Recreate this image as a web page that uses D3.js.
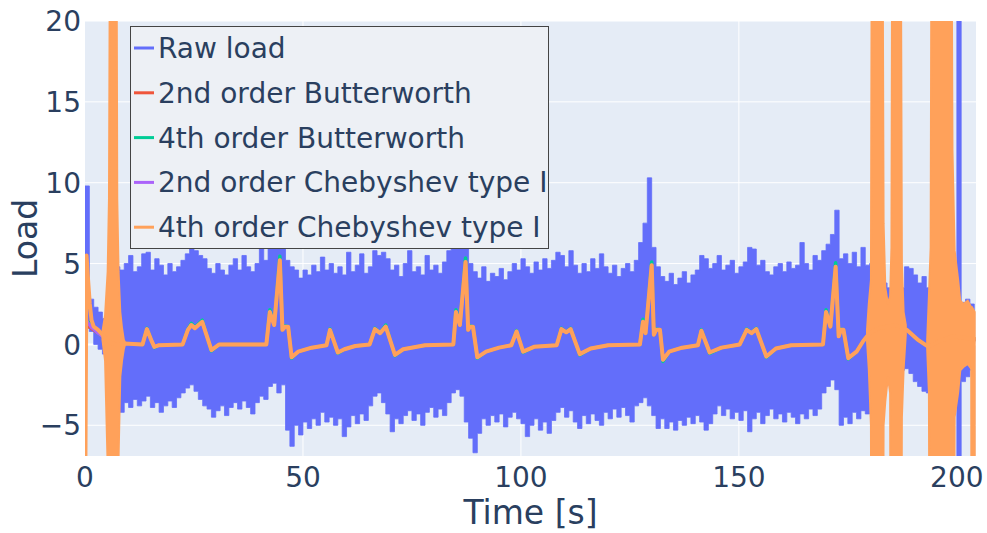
<!DOCTYPE html>
<html>
<head>
<meta charset="utf-8">
<script src="https://cdn.jsdelivr.net/npm/d3@7"></script>
<style>
  body { margin: 0; background: #fff; }
  text { font-family: "DejaVu Sans", Verdana, sans-serif; fill: #2a3f5f; }
</style>
</head>
<body>
<svg id="chart" width="987" height="533"></svg>
<script>
// ---- axis ticks ----
const xTicks = [0, 50, 100, 150, 200];
const yTicks = [-5, 0, 5, 10, 15, 20];

// ---- series names / colours ----
const seriesNames = ["Raw load", "2nd order Butterworth", "4th order Butterworth",
                     "2nd order Chebyshev type I", "4th order Chebyshev type I"];
const seriesColors = ["#636efa", "#EF553B", "#00cc96", "#ab63fa", "#FFA15A"];

// ---- raw load: per-second upper / lower envelope of the signal ----
const rawStart = 0, rawStep = 1;
const rawHi = [
  9.8, 2.8, 2.3, 2.0, 1.6, 1.8, 4.5, 4.8, 4.6, 5.0,
  5.5, 4.5, 4.8, 5.6, 5.7, 4.6, 5.3, 4.9, 4.3, 5.0,
  4.5, 4.8, 5.2, 5.6, 5.9, 5.8, 5.5, 5.3, 4.7, 4.4,
  5.0, 4.6, 4.3, 4.9, 5.3, 4.6, 5.5, 4.8, 4.5, 5.0,
  5.9, 5.2, 6.0, 6.5, 7.2, 6.5, 5.2, 4.8, 4.6, 4.1,
  4.6, 4.3, 4.9, 4.5, 5.4, 4.6, 5.0, 4.4, 4.8, 4.3,
  5.7, 4.5, 4.9, 5.6, 4.4, 4.8, 5.8, 5.5, 5.7, 5.3,
  4.6, 4.9, 4.2, 5.0, 5.8, 4.5, 4.8, 4.3, 5.5, 4.6,
  4.9, 4.4, 5.1, 5.8, 6.2, 6.8, 7.5, 6.2, 5.0, 4.5,
  4.1, 4.8, 3.9, 4.4, 4.2, 4.7, 4.0, 4.5, 5.0, 4.6,
  5.3, 4.8, 4.4, 5.1, 4.6, 5.3, 4.7, 5.2, 5.7, 5.5,
  4.8, 5.8, 4.9, 4.4, 5.0, 4.5, 5.3, 4.7, 5.6, 4.8,
  4.4, 4.9, 4.2, 4.7, 5.0, 4.5, 5.2, 6.3, 7.5, 10.3,
  6.0, 4.8, 4.2, 3.9, 4.4, 3.7, 4.1, 4.5, 3.8, 4.3,
  4.6, 5.5, 5.3, 4.7, 5.0, 5.5, 4.6, 4.9, 5.2, 4.4,
  4.8, 5.1, 6.0, 5.9, 4.9, 5.2, 4.5, 4.3, 4.8, 5.0,
  4.5, 5.1, 4.7, 4.9, 6.3, 5.0, 4.6, 5.5, 5.2, 5.8,
  6.2, 6.8, 8.3, 5.3, 5.6, 5.0, 5.7, 4.8, 6.0, 4.9,
  5.0, 4.5, 4.0, 3.8, 3.5, 3.0, 2.8, 3.5, 4.8, 4.7,
  4.3, 3.8, 4.2, 3.5, 3.0, 3.0, 2.8, 3.0, 2.8, 3.0,
  25, 2.6, 2.8, 2.5, 2.2
];
const rawLo = [
  1.0, 0.8, 0.0, -0.3, -0.6, -1.0, -4.0, -4.2, -4.2, -3.6,
  -3.9, -3.4, -3.8, -3.5, -3.2, -3.9, -3.6, -4.2, -3.8, -3.5,
  -3.9, -3.3, -3.0, -2.7, -2.5, -2.9, -3.4, -3.8, -4.0, -4.5,
  -4.1, -3.8, -4.4, -3.9, -3.6, -4.0, -3.5, -3.9, -4.3, -3.6,
  -3.2, -3.4, -2.6, -2.4, -3.0, -2.5, -5.3, -6.3, -5.0, -5.6,
  -4.8, -5.2, -4.6, -5.0, -4.2, -4.8, -4.5, -5.0, -4.6, -5.7,
  -5.1, -4.4, -4.9, -4.3, -4.7, -3.8, -3.2, -3.0, -3.6, -4.3,
  -5.4, -4.6, -4.9, -4.4, -4.1, -4.7, -4.3, -5.0, -4.2, -3.9,
  -4.5, -4.0, -4.4, -3.6, -3.0, -2.8, -3.2, -4.8, -5.8, -6.7,
  -5.5, -4.6, -5.0, -4.4, -4.8, -4.3, -5.1, -4.5, -4.2, -4.6,
  -4.9, -5.7, -5.0, -4.6, -5.3, -4.8, -5.5, -4.7, -4.2, -3.9,
  -4.5, -4.1, -4.8, -5.2, -4.4, -4.9, -4.3, -4.7, -5.0, -4.2,
  -4.6, -4.0, -4.5, -3.9, -4.4, -4.8, -3.8, -3.6, -3.3, -3.8,
  -4.4, -5.2, -4.6, -5.2, -4.8, -5.3, -4.7, -5.0, -4.5, -4.9,
  -4.4, -4.8, -5.3, -4.9, -4.3, -3.8, -4.4, -4.0, -4.6, -4.2,
  -4.7, -4.1, -5.4, -4.6, -4.2, -4.9, -4.4, -4.0, -4.6, -4.3,
  -4.8, -4.2, -4.5, -4.9, -4.3, -4.6, -4.0, -4.4, -4.0, -3.0,
  -2.6, -2.2, -2.8, -5.0, -4.5, -4.9, -4.2, -4.6, -4.1, -4.3,
  -3.8, -3.5, -3.0, -2.6, -2.5, -2.2, -2.0, -1.6, -1.5, -1.8,
  -2.3, -2.6, -2.9, -3.0, -3.2, -3.0, -3.0, -2.8, -2.6, -2.5,
  -25, -2.3, -2.0, -1.6, -1.4
];

// ---- filtered signals (shared sample times) ----
const filtT = [
  0, 0.35, 0.7, 1.1, 1.5, 2, 3, 4, 5, 6, 7, 8,
  9, 13.2, 14.2, 15.3, 15.9, 17, 22.4, 23.6, 24.4, 25.2,
  26.9, 29, 30.8, 41.6, 42.4, 43.4, 44.7, 45.3, 45.9, 46.6,
  47.4, 48.9, 52, 55.4, 56.2, 58, 59.5, 62, 65.3, 66.5,
  67.7, 69, 71.1, 73, 78, 84.5, 85.1, 86.0, 87.3, 87.9,
  88.3, 89.0, 90.0, 92, 95, 97.8, 99, 100.5, 103, 108.2,
  109.3, 110.4, 111.4, 113.5, 116, 120, 127.3, 128, 128.6, 130,
  130.5, 131, 131.9, 132.6, 134, 137, 140.6, 141.4, 143.3, 146,
  150.2, 151.8, 152.9, 154, 156.3, 158.5, 162, 169.3, 170, 171,
  172.2, 172.9, 173.4, 174, 175.1, 177, 178.5, 180, 182, 184,
  186, 188.5, 191, 193.5, 196, 199, 202, 204.3
];
const butter2 = [
  1.0, 1.1, 1.1, 1.1, 1.0, 0.9, 0.7, 0.5, 0.3, 0.15, 0.05, 0.0,
  0.05, 0.0, 0.95, 0.2, -0.15, -0.05, 0.0, 0.9, 1.2, 1.0,
  1.4, -0.35, 0.0, 0.0, 2.0, 1.2, 5.2, 0.9, 1.1, 1.1,
  -0.8, -0.45, -0.2, -0.05, 0.9, -0.5, -0.3, -0.1, 0.0, 0.95,
  0.7, 1.1, -0.65, -0.3, -0.05, 0.0, 2.0, 1.2, 5.1, 0.9,
  1.1, 1.1, -0.8, -0.45, -0.2, -0.05, 0.8, -0.45, -0.15, -0.05,
  0.95, 0.75, 0.95, -0.6, -0.25, -0.05, 0.0, 1.4, 0.7, 4.9,
  0.6, 0.9, 0.9, -0.95, -0.45, -0.2, -0.05, 0.85, -0.5, -0.2,
  0.0, 0.9, 0.7, 0.95, -0.75, -0.25, -0.05, 0.0, 2.0, 1.1,
  4.8, 0.5, 0.9, 0.9, -0.85, -0.45, 0.2, 0.7, 1.0, 1.1,
  1.2, 0.9, 0.3, -0.15, 0.2, 0.5, 0.4, 0.3
];
const butter4 = [
  0.9, 1.3, 1.4, 1.3, 1.15, 1.0, 0.7, 0.5, 0.3, 0.15, 0.05, 0.0,
  0.05, 0.0, 1.0, 0.2, -0.2, -0.05, 0.0, 0.95, 1.3, 1.05,
  1.5, -0.4, 0.0, 0.0, 2.15, 1.2, 5.45, 0.9, 1.15, 1.1,
  -0.85, -0.45, -0.2, -0.05, 0.95, -0.55, -0.3, -0.1, 0.0, 1.0,
  0.7, 1.2, -0.7, -0.3, -0.05, 0.0, 2.15, 1.2, 5.35, 0.9,
  1.15, 1.1, -0.85, -0.45, -0.2, -0.05, 0.85, -0.5, -0.15, -0.05,
  1.0, 0.75, 1.0, -0.65, -0.25, -0.05, 0.0, 1.55, 0.7, 5.1,
  0.6, 0.95, 0.9, -1.05, -0.45, -0.2, -0.05, 0.9, -0.55, -0.2,
  0.0, 0.95, 0.7, 1.0, -0.8, -0.25, -0.05, 0.0, 2.15, 1.1,
  5.05, 0.5, 0.95, 0.9, -0.9, -0.45, 0.2, 0.7, 1.0, 1.1,
  1.2, 0.9, 0.3, -0.15, 0.2, 0.5, 0.4, 0.3
];
const cheby2 = [
  1.3, 1.5, 1.3, 1.2, 1.05, 0.95, 0.7, 0.5, 0.3, 0.15, 0.05, 0.0,
  0.05, 0.0, 0.95, 0.2, -0.15, -0.05, 0.0, 0.9, 1.2, 1.0,
  1.4, -0.35, 0.0, 0.0, 2.0, 1.2, 5.2, 0.9, 1.1, 1.1,
  -0.8, -0.45, -0.2, -0.05, 0.9, -0.5, -0.3, -0.1, 0.0, 0.95,
  0.7, 1.1, -0.65, -0.3, -0.05, 0.0, 2.0, 1.2, 5.1, 0.9,
  1.1, 1.1, -0.8, -0.45, -0.2, -0.05, 0.8, -0.45, -0.15, -0.05,
  0.95, 0.75, 0.95, -0.6, -0.25, -0.05, 0.0, 1.4, 0.7, 4.9,
  0.6, 0.9, 0.9, -0.95, -0.45, -0.2, -0.05, 0.85, -0.5, -0.2,
  0.0, 0.9, 0.7, 0.95, -0.75, -0.25, -0.05, 0.0, 2.0, 1.1,
  4.8, 0.5, 0.9, 0.9, -0.85, -0.45, 0.2, 0.7, 1.0, 1.1,
  1.2, 0.9, 0.3, -0.15, 0.2, 0.5, 0.4, 0.3
];
const cheby4 = [
  -12, 5.5, 4.0, 2.5, 1.5, 1.1, 0.9, 0.6, 0.3, 0.1, 0.0, 0.0,
  0.05, 0.0, 0.95, 0.2, -0.15, -0.05, 0.0, 0.9, 1.2, 1.0,
  1.4, -0.35, 0.0, 0.0, 2.0, 1.2, 5.2, 0.9, 1.1, 1.1,
  -0.8, -0.45, -0.2, -0.05, 0.9, -0.5, -0.3, -0.1, 0.0, 0.95,
  0.7, 1.1, -0.65, -0.3, -0.05, 0.0, 2.0, 1.2, 5.1, 0.9,
  1.1, 1.1, -0.8, -0.45, -0.2, -0.05, 0.8, -0.45, -0.15, -0.05,
  0.95, 0.75, 0.95, -0.6, -0.25, -0.05, 0.0, 1.4, 0.7, 4.9,
  0.6, 0.9, 0.9, -0.95, -0.45, -0.2, -0.05, 0.85, -0.5, -0.2,
  0.0, 0.9, 0.7, 0.95, -0.75, -0.25, -0.05, 0.0, 2.0, 1.1,
  4.8, 0.5, 0.9, 0.9, -0.85, -0.45, 0.2, 0.7, 1.0, 1.1,
  1.2, 0.9, 0.3, -0.15, 0.2, 0.5, 0.4, 0.3
];

// ---- 4th order Chebyshev ringing: envelope of the unstable bursts ----
const burstT = [
  4.0, 4.6, 5.2, 5.5, 5.9, 7.1, 7.4, 7.7, 8.1, 8.5, 8.9, 9.2,
  9.3,
  179.4, 179.8, 180.3, 180.6, 182.8, 183.2, 183.6, 184.2, 184.7, 185.0,
  185.3, 187.0, 187.4, 187.8, 188.3,
  188.4,
  193.2, 193.6, 194.0, 194.3, 198.6, 199.0, 199.5, 200.3, 200.8, 201.5,
  202.5, 203.3, 203.5, 204.1
];
const burstHi = [
  0.8, 1.8, 4.5, 9.0, 40, 40, 9.0, 4.5, 2.0, 1.0, 0.3, 0.1,
  null,
  0.9, 2.5, 4.0, 40, 40, 7.5, 3.5, 2.5, 3.0, 6.0,
  40, 40, 5.0, 2.0, 1.2,
  null,
  0.3, 3.0, 6.0, 40, 40, 12, 5.8, 4.0, 2.7, 2.5,
  2.7, 2.3, 2.3, 2.0
];
const burstLo = [
  0.3, -1.0, -7.5, -40, -40, -40, -40, -7.0, -2.0, -1.0, -0.3, 0.0,
  null,
  0.2, -1.5, -5.0, -40, -40, -5.0, -3.5, -2.0, -3.0, -40,
  -40, -40, -4.5, -1.5, 0.6,
  null,
  -0.3, -3.0, -40, -40, -40, -40, -4.5, -3.0, -1.6, -1.4,
  -1.2, -1.5, -40, -40
];

// ---- layout ----
const plot = { left: 85, right: 976, top: 21, bottom: 456 };
const x = d3.scaleLinear().domain([0, 204.4]).range([plot.left, plot.right]);
const y = d3.scaleLinear().domain([-6.9, 20]).range([plot.bottom, plot.top]);

const svg = d3.select("#chart");

svg.append("rect").attr("x", plot.left).attr("y", plot.top)
  .attr("width", plot.right - plot.left).attr("height", plot.bottom - plot.top)
  .attr("fill", "#E5ECF6");

svg.append("defs").append("clipPath").attr("id", "plotClip")
  .append("rect").attr("x", plot.left).attr("y", plot.top)
  .attr("width", plot.right - plot.left).attr("height", plot.bottom - plot.top);

// grid
const grid = svg.append("g");
grid.selectAll("line.gx").data(xTicks.filter(d => d > 0)).join("line")
  .attr("x1", d => x(d)).attr("x2", d => x(d))
  .attr("y1", plot.top).attr("y2", plot.bottom)
  .attr("stroke", "#fff").attr("stroke-width", 1);
grid.selectAll("line.gy").data(yTicks).join("line")
  .attr("x1", plot.left).attr("x2", plot.right)
  .attr("y1", d => y(d)).attr("y2", d => y(d))
  .attr("stroke", "#fff").attr("stroke-width", d => d === 0 ? 2 : 1);

const data = svg.append("g").attr("clip-path", "url(#plotClip)");

// raw load band
const rawT = d3.range(rawHi.length).map(i => rawStart + i * rawStep);
const rawArea = d3.area()
  .x((d, i) => x(rawT[i]))
  .y0((d, i) => y(rawLo[i]))
  .y1((d, i) => y(rawHi[i]))
  .curve(d3.curveStepAfter);
data.append("path").datum(rawHi).attr("d", rawArea)
  .attr("fill", seriesColors[0]).attr("stroke", seriesColors[0]).attr("stroke-width", 0.8);

// filtered lines
const filtLine = vals => d3.line().x((d, i) => x(filtT[i])).y((d, i) => y(vals[i]))(vals);
[[butter2, 1, 3.5], [butter4, 2, 3.5], [cheby2, 3, 3.5]].forEach(([vals, ci, w]) => {
  data.append("path").attr("d", filtLine(vals))
    .attr("fill", "none").attr("stroke", seriesColors[ci])
    .attr("stroke-width", w).attr("stroke-linejoin", "round");
});

// 4th order Chebyshev: ringing bursts then the main trace
const burstArea = d3.area()
  .defined((d, i) => burstHi[i] !== null)
  .x((d, i) => x(burstT[i]))
  .y0((d, i) => y(burstLo[i]))
  .y1((d, i) => y(burstHi[i]));
data.append("path").datum(burstHi).attr("d", burstArea)
  .attr("fill", seriesColors[4]).attr("stroke", seriesColors[4]).attr("stroke-width", 2);
data.append("path").attr("d", filtLine(cheby4))
  .attr("fill", "none").attr("stroke", seriesColors[4])
  .attr("stroke-width", 4).attr("stroke-linejoin", "round");

// axes labels
const fmt = d => (d < 0 ? "\u2212" + Math.abs(d) : String(d));
svg.append("g").selectAll("text").data(xTicks).join("text")
  .attr("x", d => x(d)).attr("y", 487)
  .attr("text-anchor", "middle").attr("font-size", 28).text(fmt);
svg.append("g").selectAll("text").data(yTicks).join("text")
  .attr("x", 81).attr("y", d => y(d)).attr("dy", "0.36em")
  .attr("text-anchor", "end").attr("font-size", 28).text(fmt);

svg.append("text").attr("x", (plot.left + plot.right) / 2).attr("y", 524)
  .attr("text-anchor", "middle").attr("font-size", 33).text("Time [s]");
svg.append("text").attr("transform", `translate(37,${(plot.top + plot.bottom) / 2}) rotate(-90)`)
  .attr("text-anchor", "middle").attr("font-size", 33).text("Load");

// legend
const lg = svg.append("g");
lg.append("rect").attr("x", 130.5).attr("y", 26.5).attr("width", 418).attr("height", 222)
  .attr("fill", "#EDF0F5").attr("stroke", "#444").attr("stroke-width", 1);
const rows = lg.selectAll("g.item").data(seriesNames).join("g")
  .attr("transform", (d, i) => `translate(0,${48 + i * 44.8})`);
rows.append("line").attr("x1", 134).attr("x2", 154).attr("y1", 0).attr("y2", 0)
  .attr("stroke", (d, i) => seriesColors[i]).attr("stroke-width", 3);
rows.append("text").attr("x", 158).attr("y", 0).attr("dy", "0.36em")
  .attr("font-size", 28).text(d => d);
</script>
</body>
</html>
